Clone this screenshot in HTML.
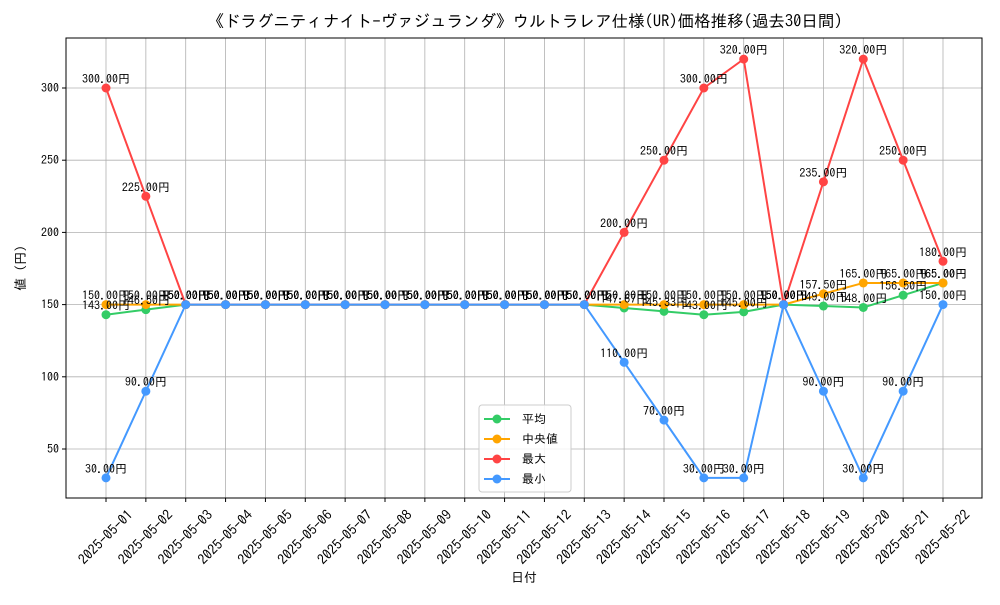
<!DOCTYPE html>
<html><head><meta charset="utf-8"><style>
body{margin:0;background:#fff;}
svg text{font-family:"IPAGothic","Noto Sans CJK JP",sans-serif;}
</style></head><body>
<svg id="c" width="1000" height="600" xmlns="http://www.w3.org/2000/svg"></svg>
<script>
const dates=["2025-05-01","2025-05-02","2025-05-03","2025-05-04","2025-05-05","2025-05-06","2025-05-07","2025-05-08","2025-05-09","2025-05-10","2025-05-11","2025-05-12","2025-05-13","2025-05-14","2025-05-15","2025-05-16","2025-05-17","2025-05-18","2025-05-19","2025-05-20","2025-05-21","2025-05-22"];
const avgVals=[143,146.5,150,150,150,150,150,150,150,150,150,150,150,147.67,145.33,143,145,150,149,148,156.5,165];
const medVals=[150,150,150,150,150,150,150,150,150,150,150,150,150,150,150,150,150,150,157.5,165,165,165];
const maxVals=[300,225,150,150,150,150,150,150,150,150,150,150,150,200,250,300,320,150,235,320,250,180];
const minVals=[30,90,150,150,150,150,150,150,150,150,150,150,150,110,70,30,30,150,90,30,90,150];
const yTicks=[50,100,150,200,250,300];
const svg=document.getElementById('c');const NS="http://www.w3.org/2000/svg";
const L=66,R=982,T=38,B=498;
const x=i=>106+i*(943-106)/21;
const y=v=>88+(300-v)*(449-88)/250;
function el(t,a,p){const e=document.createElementNS(NS,t);for(const k in a)e.setAttribute(k,a[k]);(p||svg).appendChild(e);return e;}
yTicks.forEach(v=>{const g=el('line',{x1:L,x2:R,y1:y(v),y2:y(v),stroke:'#b0b0b0','stroke-width':0.8});


el('line',{x1:L-4,x2:L,y1:y(v),y2:y(v),stroke:'#000'});
const t=el('text',{x:L-7,y:y(v)+4,'text-anchor':'end','font-size':12});t.textContent=v;

});
dates.forEach((d,i)=>{const g=el('line',{x1:x(i),x2:x(i),y1:T,y2:B,stroke:'#b0b0b0','stroke-width':0.8});


el('line',{x1:x(i),x2:x(i),y1:B,y2:B+4,stroke:'#000'});
const cx=x(i)-0.5,cy=B+39;
const t=el('text',{x:cx,y:cy+5,'text-anchor':'middle','font-size':14,transform:`rotate(-45 ${cx} ${cy})`});t.textContent=d;

});
const fr=el('rect',{x:L,y:T,width:R-L,height:B-T,fill:'none',stroke:'#000','stroke-width':1});


const series=[["avg",avgVals,"#33cc66"],["median",medVals,"#ffa500"],["max",maxVals,"#ff4444"],["min",minVals,"#4499ff"]];
series.forEach(([n,vals,c])=>{
const p=el('polyline',{points:vals.map((v,i)=>x(i)+','+y(v)).join(' '),fill:'none',stroke:c,'stroke-width':2});


vals.forEach((v,i)=>{const m=el('circle',{cx:x(i),cy:y(v),r:4.5,fill:c});

});
});
series.forEach(([n,vals,c])=>{vals.forEach((v,i)=>{const t=el('text',{x:x(i),y:y(v)-5,'text-anchor':'middle','font-size':12,fill:'#000'});t.textContent=v.toFixed(2)+'円';

});});
const ti=el('text',{x:525,y:27,'text-anchor':'middle','font-size':16.5});ti.textContent='《ドラグニティナイト-ヴァジュランダ》ウルトラレア仕様(UR)価格推移(過去30日間)';


const xl=el('text',{x:524,y:582,'text-anchor':'middle','font-size':13});xl.textContent='日付';


const yl=el('text',{x:25,y:268,'text-anchor':'middle','font-size':13,transform:'rotate(-90 25 268)'});yl.textContent='値 (円)';


const lg=el('g',{});


el('rect',{x:479,y:405,width:92,height:87,rx:3,fill:'#fff','fill-opacity':0.85,stroke:'#ccc'},lg);
const names=["平均","中央値","最大","最小"];
series.forEach(([n,vals,c],k)=>{const yy=419+k*20;
const e=el('g',{},lg);


el('line',{x1:484,x2:510,y1:yy,y2:yy,stroke:c,'stroke-width':2},e);
el('circle',{cx:497,cy:yy,r:4.5,fill:c},e);
const t=el('text',{x:522,y:yy+4,'font-size':12},e);t.textContent=names[k];});
</script>
</body></html>
